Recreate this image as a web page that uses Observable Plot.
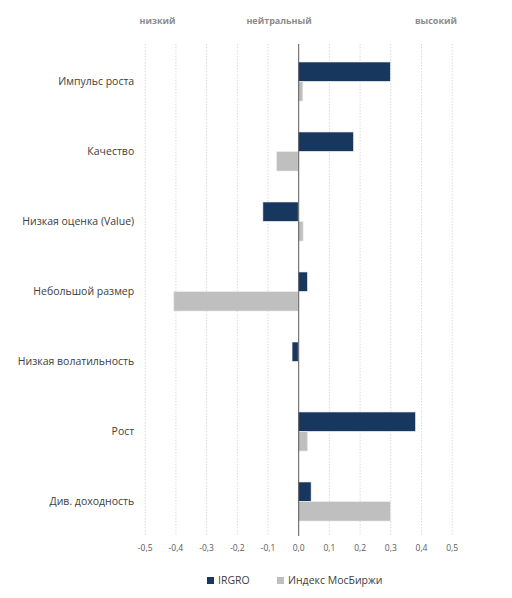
<!DOCTYPE html>
<html><head><meta charset="utf-8">
<script src="https://cdn.jsdelivr.net/npm/d3@7"></script>
<script src="https://cdn.jsdelivr.net/npm/@observablehq/plot@0.6"></script>
<style>
body{margin:0;background:#fff;font-family:"Open Sans",sans-serif;}
#legend{position:relative;height:20px;font-size:10.5px;color:#404040;margin-top:8px}
#legend span{position:absolute;display:inline-flex;align-items:center;gap:4px;white-space:nowrap}
#legend i{display:inline-block;width:7px;height:7px}
</style></head><body>
<div id="chart"></div>
<div id="legend"></div>
<script>
const categories = ["Импульс роста","Качество","Низкая оценка (Value)","Небольшой размер","Низкая волатильность","Рост","Див. доходность"];
const seriesNames = ["IRGRO","Индекс МосБиржи"];
const irgro = [0.30, 0.18, -0.115, 0.03, -0.02, 0.382, 0.042];
const moex = [0.015, -0.07, 0.016, -0.405, 0, 0.03, 0.30];
const xTicks = [-0.5,-0.4,-0.3,-0.2,-0.1,0,0.1,0.2,0.3,0.4,0.5];
const topLabels = ["низкий","нейтральный","высокий"];
const topLabelX = [-0.46,-0.064,0.447];
const colors = ["#17375E","#BFBFBF"];

const rows = categories.map((c,i)=>({category:c, irgro:irgro[i], moex:moex[i]}));
const tops = topLabels.map((t,i)=>({t, x:topLabelX[i]}));
const half = 19.7;

const chart = Plot.plot({
  width: 512, height: 565,
  marginLeft: 144.7, marginRight: 60.3, marginTop: 44, marginBottom: 29,
  style: {fontFamily: "Open Sans, sans-serif", background: "#fff"},
  x: {domain: [-0.5, 0.5], ticks: xTicks, tickFormat: d => d.toFixed(1).replace(".", ","), tickSize: 0, tickPadding: 8, label: null},
  y: {domain: categories, range: [45.5, 537.5], paddingInner: 0.44, paddingOuter: 0.22, tickSize: 0, tickPadding: 11, label: null},
  marks: [
    Plot.ruleX(xTicks.filter(d => d !== 0), {stroke: "#d9d9d9", strokeDasharray: "1.5,1.5"}),
    Plot.barX(rows, {x: "irgro", y: "category", fill: colors[0], insetBottom: half, stroke: "#e8ecf2", strokeWidth: 0.6}),
    Plot.barX(rows, {x: "moex", y: "category", fill: colors[1], insetTop: half, stroke: "#e6e6e6", strokeWidth: 0.6}),
    Plot.ruleX([0], {stroke: "#595959", strokeWidth: 1}),
    Plot.text(tops, {x: "x", text: "t", frameAnchor: "top", dy: -27, fill: "#8c8c8c", fontWeight: "bold", fontSize: 9})
  ]
});
chart.querySelectorAll('g[aria-label="x-axis tick label"]').forEach(e=>{e.setAttribute("fill","#595959");e.setAttribute("font-size","8.5");});
chart.querySelectorAll('g[aria-label="y-axis tick label"]').forEach(e=>{e.setAttribute("fill","#404040");e.setAttribute("font-size","10.5");});
document.getElementById("chart").appendChild(chart);
const lg = document.getElementById("legend");
const legendLeft = [207, 277];
seriesNames.forEach((n,i)=>{const s=document.createElement("span");s.style.left=legendLeft[i]+"px";s.innerHTML=`<i style="background:${colors[i]}"></i>${n}`;lg.appendChild(s);});
</script>
</body></html>
